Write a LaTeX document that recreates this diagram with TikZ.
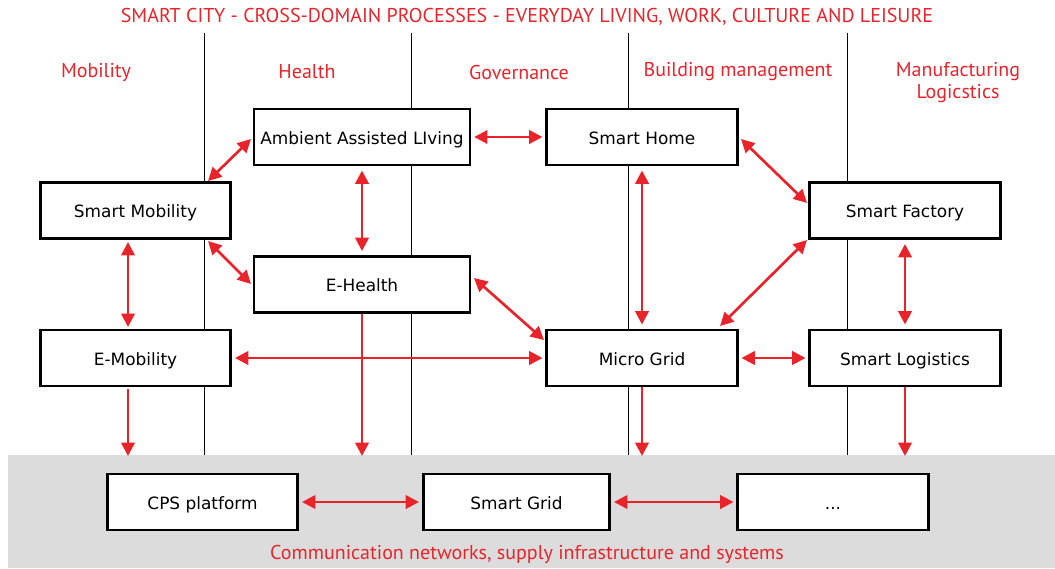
\documentclass[tikz,border=0pt]{standalone}
\usepackage{fontspec}
\setmainfont{DejaVu Sans}
\newfontfamily\redfont{PT Sans}
\usetikzlibrary{arrows.meta}
\definecolor{cred}{HTML}{E8242A}
\definecolor{band}{HTML}{DCDCDC}
\tikzset{
  box/.style={draw=black, line width=2.2pt, fill=white, minimum width=143pt, minimum height=42pt, inner sep=0pt, text height=10.5pt, text depth=0pt, font=\fontsize{12.7}{15}\selectfont},
  lbl/.style={text=cred, font=\redfont\fontsize{15}{16.5}\selectfont, align=center},
  dbl/.style={draw=cred, line width=2pt, {Triangle[length=10pt,width=10pt]}-{Triangle[length=10pt,width=10pt]}},
  sgl/.style={draw=cred, line width=2pt, -{Triangle[length=10pt,width=10pt]}},
  sep/.style={draw=black, line width=0.7pt}
}
\begin{document}
\begin{tikzpicture}[x=0.75pt,y=-0.75pt]
\useasboundingbox (0,0) rectangle (1055,568);
\fill[band] (8,455) rectangle (1055,568);
% separators
\foreach \xx/\nm in {204/s1,411/s2,628/s3,847/s4}{
  \coordinate (\nm t) at (\xx,33);
  \coordinate (\nm b) at (\xx,455);
  \draw[sep] (\nm t) -- (\nm b);
}
% titles
\node[lbl] (title) at (527,17) {SMART CITY - CROSS-DOMAIN PROCESSES - EVERYDAY LIVING, WORK, CULTURE AND LEISURE};
\node[lbl] (cmob) at (96,72) {Mobility};
\node[lbl] (chea) at (307,72) {Health};
\node[lbl] (cgov) at (519,72) {Governance};
\node[lbl] (cbld) at (738,72) {Building management};
\node[lbl] (cman) at (958,83) {Manufacturing\\Logicstics};
\node[lbl] (bottom) at (527,554) {Communication networks, supply infrastructure and systems};
% boxes
\node[box, minimum width=162pt] (aal) at (362,137) {Ambient Assisted LIving};
\node[box] (home) at (642,137) {Smart Home};
\node[box] (smob) at (135.5,210.5) {Smart Mobility};
\node[box] (fact) at (905,210.5) {Smart Factory};
\node[box, minimum width=162pt] (ehea) at (362,284.5) {E-Health};
\node[box] (emob) at (135.5,358) {E-Mobility};
\node[box] (micro) at (642,358) {Micro Grid};
\node[box] (logi) at (905,358) {Smart Logistics};
\node[box] (cps) at (202.5,502) {CPS platform};
\node[box, minimum width=140pt] (grid) at (516.5,502) {Smart Grid};
\node[box] (dots) at (833,502) {...};
% connector end coordinates
\coordinate (smobTR) at (208,181);
\coordinate (aalL) at (251,139);
\coordinate (smobBR) at (208,241);
\coordinate (eheaL) at (251,284);
\coordinate (homeR) at (741,139);
\coordinate (factL) at (807,203);
\coordinate (factBL) at (807,240);
\coordinate (microTR) at (720,326);
\coordinate (eheaR) at (474,278);
\coordinate (microL) at (544,340);
\coordinate (smobB) at (128,242);
\coordinate (emobT) at (128,327);
\coordinate (emobB) at (128,389);
\coordinate (s1x) at (128,456);
\coordinate (s2x) at (362,456);
\coordinate (s3x) at (642,456);
\coordinate (s4x) at (905,456);
% double arrows
\draw[dbl] (smobTR) -- (aalL);
\draw[dbl] (smobBR) -- (eheaL);
\draw[dbl] ([yshift=-3]aal.south) -- ([yshift=3]ehea.north);
\draw[dbl] ([xshift=2]aal.east) -- ([xshift=-2]home.west);
\draw[dbl] (homeR) -- (factL);
\draw[dbl] ([yshift=-3]home.south) -- ([yshift=3]micro.north);
\draw[dbl] (factBL) -- (microTR);
\draw[dbl] (eheaR) -- (microL);
\draw[dbl] (smobB) -- (emobT);
\draw[dbl] ([yshift=-3]fact.south) -- ([yshift=3]logi.north);
\draw[dbl] ([xshift=2]emob.east) -- ([xshift=-2]micro.west);
\draw[dbl] ([xshift=2]micro.east) -- ([xshift=-2]logi.west);
\draw[dbl] ([xshift=2]cps.east) -- ([xshift=-2]grid.west);
\draw[dbl] ([xshift=2]grid.east) -- ([xshift=-2]dots.west);
% single arrows down
\draw[sgl] (emobB) -- (s1x);
\draw[sgl] (ehea.south) -- (s2x);
\draw[sgl] (micro.south) -- (s3x);
\draw[sgl] (logi.south) -- (s4x);
\end{tikzpicture}
\end{document}
